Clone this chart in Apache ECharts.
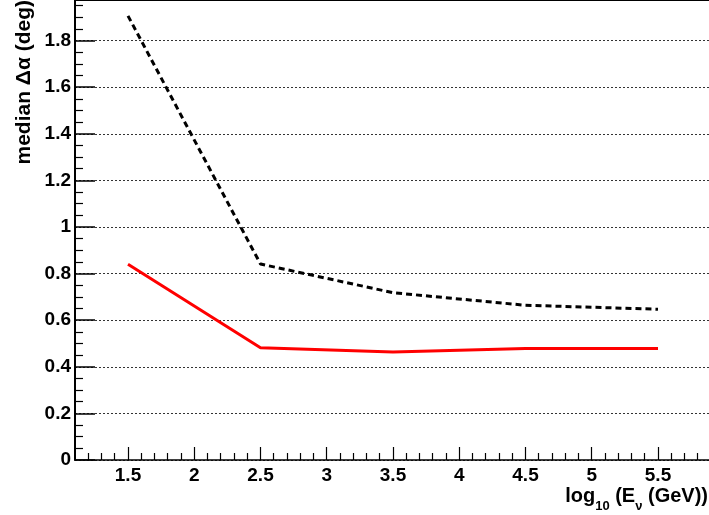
<!DOCTYPE html>
<html>
<head>
<meta charset="utf-8">
<script src="https://cdn.jsdelivr.net/npm/echarts@6/dist/echarts.min.js"></script>
<style>html,body{margin:0;padding:0;background:#fff}#c{width:709px;height:515px}</style>
</head>
<body>
<div id="c"></div>
<script>
var xValues = [1.5, 2.5, 3.5, 4.5, 5.5];
var redValues = [0.840, 0.482, 0.463, 0.479, 0.479];
var blackValues = [1.906, 0.841, 0.718, 0.664, 0.647];
var xMajorTicks = [1.5, 2, 2.5, 3, 3.5, 4, 4.5, 5, 5.5];
var xMinorTicks = [1.2, 1.3, 1.4, 1.6, 1.7, 1.8, 1.9, 2.1, 2.2, 2.3, 2.4, 2.6, 2.7, 2.8, 2.9,
  3.1, 3.2, 3.3, 3.4, 3.6, 3.7, 3.8, 3.9, 4.1, 4.2, 4.3, 4.4, 4.6, 4.7, 4.8, 4.9,
  5.1, 5.2, 5.3, 5.4, 5.6, 5.7, 5.8];

function pairs(xs, ys) { return xs.map(function (x, i) { return [x, ys[i]]; }); }

var FONT = 'Liberation Sans';
var chart = echarts.init(document.getElementById('c'));
chart.setOption({
  animation: false,
  backgroundColor: '#fff',
  grid: { left: 75, right: 0, top: 0, bottom: 55, containLabel: false },
  xAxis: [
    {
      type: 'value', min: 1.1, max: 5.885, position: 'bottom',
      axisLine: { show: true, onZero: false, lineStyle: { color: '#000', width: 1.5 } },
      axisTick: { show: true, inside: true, length: 13, customValues: xMajorTicks, lineStyle: { color: '#000', width: 1.2 } },
      axisLabel: { show: true, customValues: xMajorTicks, margin: 6, color: '#000', fontFamily: FONT, fontWeight: 'bold', fontSize: 19 },
      splitLine: { show: false }
    },
    {
      type: 'value', min: 1.1, max: 5.885, position: 'bottom',
      axisLine: { show: false },
      axisTick: { show: true, inside: true, length: 7, customValues: xMinorTicks, lineStyle: { color: '#000', width: 1.2 } },
      axisLabel: { show: false },
      splitLine: { show: false }
    },
    {
      type: 'value', min: 1.1, max: 5.885, position: 'top',
      axisLine: { show: true, onZero: false, lineStyle: { color: '#000', width: 2 } },
      axisTick: { show: false }, axisLabel: { show: false }, splitLine: { show: false }
    }
  ],
  yAxis: {
    type: 'value', min: 0, max: 1.974, interval: 0.2,
    axisLine: { show: true, onZero: false, lineStyle: { color: '#000', width: 2 } },
    axisTick: { show: true, inside: true, length: 20, lineStyle: { color: '#000', width: 1.5 } },
    minorTick: { show: true, splitNumber: 4, length: 8, lineStyle: { color: '#000', width: 1.2 } },
    axisLabel: { margin: 4, color: '#000', fontFamily: FONT, fontWeight: 'bold', fontSize: 19, showMaxLabel: false,
      formatter: function (v) { return String(Math.round(v * 10) / 10); } },
    splitLine: { show: true, lineStyle: { color: '#333', width: 1, type: [2, 2] } }
  },
  series: [
    {
      type: 'line', xAxisIndex: 0, data: pairs(xValues, blackValues), symbol: 'none', z: 3,
      lineStyle: { color: '#000', width: 3, type: [6, 4] }
    },
    {
      type: 'line', xAxisIndex: 0, data: pairs(xValues, redValues), symbol: 'none', z: 4,
      lineStyle: { color: '#ff0000', width: 3 }
    }
  ],
  graphic: [
    {
      type: 'text', x: 24, y: 0, rotation: Math.PI / 2,
      style: {
        text: 'median Δα (deg)', align: 'right', verticalAlign: 'middle',
        fontFamily: FONT, fontWeight: 'bold', fontSize: 21, fill: '#000'
      }
    },
    {
      type: 'text', right: 1, top: 486,
      style: {
        text: '{n|log}{s|10}{n| (E}{s|ν}{n| (GeV))}',
        fill: '#000',
        rich: {
          n: { fontFamily: FONT, fontWeight: 'bold', fontSize: 20, lineHeight: 20, verticalAlign: 'top' },
          s: { fontFamily: FONT, fontWeight: 'bold', fontSize: 13, lineHeight: 40, verticalAlign: 'middle' }
        }
      }
    }
  ]
});
</script>
</body>
</html>
